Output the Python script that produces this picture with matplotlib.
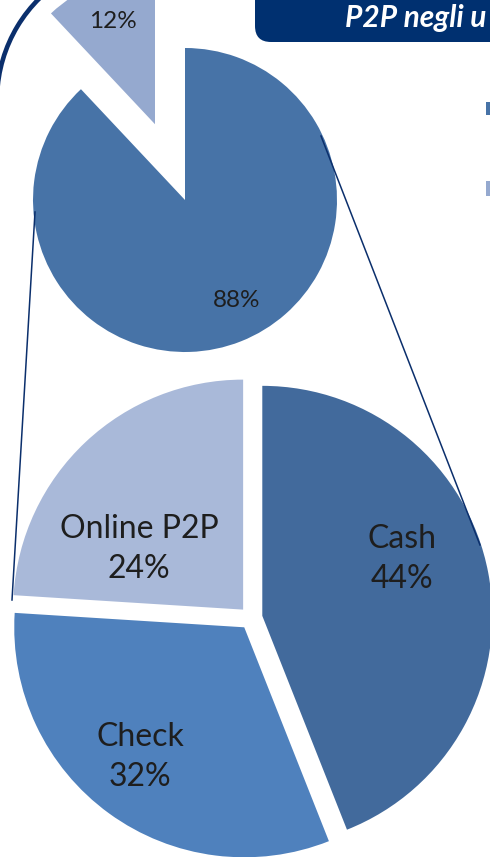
"""Pie-of-pie: P2P payments share and breakdown (slide crop)."""

import matplotlib

matplotlib.use("Agg")
import matplotlib.pyplot as plt
from matplotlib.patches import Arc, FancyBboxPatch, Rectangle

W, H = 490, 857

# upper pie
TOP_VALUES = [88, 12]
TOP_COLORS = ["#4773A7", "#95A9CF"]

# lower pie: breakdown of the 88% slice
BOTTOM_LABELS = ["Cash", "Check", "Online P2P"]
BOTTOM_VALUES = [44, 32, 24]
BOTTOM_COLORS = ["#426A9C", "#4F81BD", "#A9B9D9"]

# header text as far as the crop shows it
TITLE = "P2P negli u"

NAVY = "#0B2F6C"
HEADER = "#003070"
TEXT = "#1E1E1E"

plt.rcParams["font.family"] = ["Lato", "DejaVu Sans"]


def img(x, y):
    """Picture pixel coords (origin top-left) -> axes data coords."""
    return x, H - y


fig = plt.figure(figsize=(W / 100, H / 100), dpi=100)
ax = fig.add_axes([0, 0, 1, 1])

# upper pie, small slice pulled out
ax.pie(
    TOP_VALUES,
    colors=TOP_COLORS,
    center=img(185, 200),
    radius=152,
    explode=[0, 81.5],
    startangle=90,
    counterclock=False,
    wedgeprops={"linewidth": 0},
)
for value, pos in zip(TOP_VALUES, [(237, 300), (113, 21)]):
    ax.text(*img(*pos), f"{value}%", ha="center", va="center",
            fontsize=17.5, color=TEXT)

# lower pie, all slices slightly apart
ax.pie(
    BOTTOM_VALUES,
    colors=BOTTOM_COLORS,
    center=img(251, 618),
    radius=230,
    explode=[11.5] * 3,
    startangle=90,
    counterclock=False,
    wedgeprops={"linewidth": 0},
)
for label, value, pos in zip(BOTTOM_LABELS, BOTTOM_VALUES,
                             [(402, 559), (140, 757), (139, 549)]):
    ax.text(*img(*pos), f"{label}\n{value}%", ha="center", va="center",
            fontsize=23, color=TEXT, linespacing=1.42)

# connector lines between the two pies
ax.plot(*zip(img(35, 212), img(12, 600)), color=NAVY, lw=1.1, zorder=5)
ax.plot(*zip(img(321, 136), img(480, 545)), color=NAVY, lw=1.1, zorder=5)

# frame arc in the top-left corner
ax.add_patch(Arc(img(140, 100), 286, 286, theta1=120, theta2=178,
                 color=NAVY, lw=3.3, zorder=6))

# header box (cut off by the crop)
ax.add_patch(FancyBboxPatch(img(255, 42), 300, 80,
                            boxstyle="round,pad=0,rounding_size=16",
                            facecolor=HEADER, edgecolor="none", zorder=6))
ax.text(*img(345, 27), TITLE, ha="left", va="baseline", fontsize=21.5,
        fontweight="bold", fontstyle="italic", color="white", zorder=7)

# legend markers at the right edge
ax.add_patch(Rectangle(img(486, 115), 10, 13, facecolor=TOP_COLORS[0],
                       edgecolor="none"))
ax.add_patch(Rectangle(img(486, 196), 10, 15, facecolor=TOP_COLORS[1],
                       edgecolor="none"))

ax.set_xlim(0, W)
ax.set_ylim(0, H)
ax.axis("off")

fig.savefig("out.png", dpi=100)
